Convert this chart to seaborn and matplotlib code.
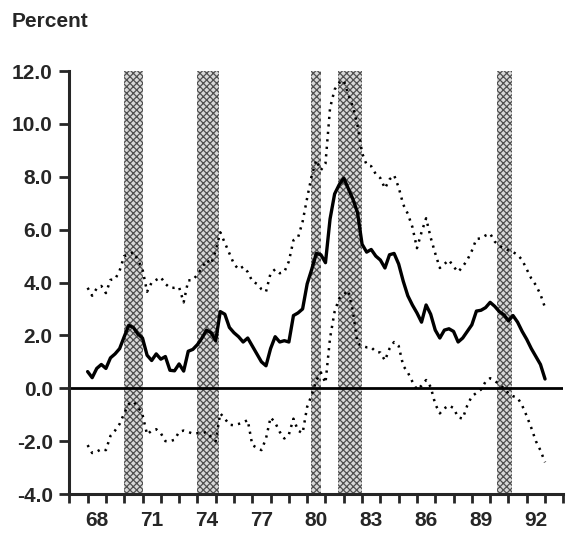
import numpy as np
import pandas as pd
import matplotlib
matplotlib.use("Agg")
import matplotlib.pyplot as plt
import seaborn as sns

# ---- data (quarterly, 1968Q1 .. 1993Q1) ----
quarters = pd.period_range("1968Q1", "1993Q1", freq="Q")

central = [
    0.63, 0.40, 0.75, 0.90,   # 1968
    0.75, 1.15, 1.30, 1.50,   # 1969
    1.95, 2.38, 2.30, 2.05,   # 1970
    1.90, 1.25, 1.05, 1.30,   # 1971
    1.10, 1.20, 0.68, 0.66,   # 1972
    0.92, 0.65, 1.40, 1.47,   # 1973
    1.65, 1.90, 2.20, 2.10,   # 1974
    1.80, 2.90, 2.80, 2.30,   # 1975
    2.10, 1.95, 1.75, 1.90,   # 1976
    1.60, 1.30, 1.00, 0.85,   # 1977
    1.50, 1.95, 1.75, 1.80,   # 1978
    1.75, 2.75, 2.85, 3.00,   # 1979
    3.95, 4.50, 5.10, 5.05,   # 1980
    4.75, 6.40, 7.35, 7.70,   # 1981
    7.95, 7.55, 7.15, 6.65,   # 1982
    5.45, 5.15, 5.25, 5.00,   # 1983
    4.85, 4.55, 5.05, 5.10,   # 1984
    4.70, 4.05, 3.50, 3.15,   # 1985
    2.85, 2.50, 3.15, 2.80,   # 1986
    2.20, 1.90, 2.20, 2.25,   # 1987
    2.15, 1.75, 1.90, 2.15,   # 1988
    2.40, 2.92, 2.95, 3.05,   # 1989
    3.25, 3.10, 2.90, 2.78,   # 1990
    2.55, 2.75, 2.50, 2.15,   # 1991
    1.85, 1.50, 1.20, 0.90,   # 1992
    0.35,                     # 1993
]

upper = [
    3.80, 3.50, 3.78, 3.87,
    3.60, 4.10, 4.12, 4.45,
    5.00, 5.05, 5.15, 4.85,
    4.50, 3.65, 4.00, 4.10,
    4.20, 3.95, 3.80, 3.80,
    3.82, 3.25, 4.08, 4.09,
    4.30, 4.55, 4.85, 4.70,
    5.20, 5.90, 5.50, 5.10,
    4.70, 4.50, 4.60, 4.40,
    4.05, 3.95, 3.75, 3.65,
    4.35, 4.50, 4.35, 4.40,
    4.80, 5.60, 5.70, 6.30,
    7.20, 8.05, 8.63, 8.25,
    8.50, 10.60, 11.30, 11.55,
    11.65, 11.10, 10.65, 9.95,
    8.90, 8.45, 8.40, 8.10,
    7.95, 7.56, 7.90, 8.06,
    7.60, 6.95, 6.60, 6.10,
    5.30, 5.90, 6.43, 5.70,
    5.10, 4.55, 4.70, 4.85,
    4.60, 4.40, 4.60, 4.85,
    5.20, 5.65, 5.67, 5.78,
    5.85, 5.55, 5.38, 5.30,
    5.22, 5.15, 5.05, 4.85,
    4.50, 4.15, 3.90, 3.55,
    3.05,
]

lower = [
    -2.15, -2.45, -2.40, -2.30,
    -2.34, -1.80, -1.60, -1.35,
    -0.95, -0.60, -0.50, -0.70,
    -1.00, -1.75, -1.60, -1.55,
    -1.70, -2.00, -2.00, -1.95,
    -1.65, -1.60, -1.65, -1.72,
    -1.70, -1.70, -1.65, -1.85,
    -2.00, -0.95, -1.15, -1.38,
    -1.40, -1.35, -1.30, -1.20,
    -2.15, -2.25, -2.34, -1.90,
    -1.10, -1.30, -1.65, -1.90,
    -1.75, -1.15, -1.60, -1.70,
    -0.70, -0.25, 0.30, 0.60,
    0.20, 1.90, 2.90, 3.40,
    3.55, 3.70, 2.90, 1.70,
    1.60, 1.55, 1.55, 1.38,
    1.35, 1.05, 1.50, 1.75,
    1.60, 0.85, 0.60, 0.25,
    -0.05, 0.10, 0.31, 0.05,
    -0.60, -0.95, -0.76, -0.65,
    -0.75, -1.10, -1.15, -0.65,
    -0.30, -0.18, -0.05, 0.25,
    0.38, 0.28, 0.15, 0.00,
    -0.20, -0.30, -0.36, -0.65,
    -1.05, -1.50, -2.00, -2.35,
    -2.80,
]

# recession periods (start, end) in decimal years
recession_start = [1970.0, 1974.0, 1980.2, 1981.7, 1990.4]
recession_end = [1971.0, 1975.2, 1980.73, 1983.0, 1991.2]

year_labels = ["68", "71", "74", "77", "80", "83", "86", "89", "92"]
label_years = [1968, 1971, 1974, 1977, 1980, 1983, 1986, 1989, 1992]
y_ticks = [-4.0, -2.0, 0.0, 2.0, 4.0, 6.0, 8.0, 10.0, 12.0]

# ---- frame ----
t = quarters.year + (quarters.quarter - 1) / 4.0
df = pd.DataFrame({"t": t, "central": central, "upper": upper, "lower": lower})

sns.set_style("ticks")
plt.rcParams["font.family"] = ["Liberation Sans Narrow", "Liberation Sans", "DejaVu Sans"]
plt.rcParams["font.weight"] = "bold"
plt.rcParams["hatch.linewidth"] = 0.9

fig = plt.figure(figsize=(5.7, 5.34), dpi=100)
ax = fig.add_axes([0.1216, 0.0749, 0.8667, 0.7921])

for s, e in zip(recession_start, recession_end):
    ax.axvspan(s, e, ymin=0, ymax=1, facecolor="#d8d8d8", edgecolor="#505050",
               hatch="xxxxx", linewidth=0, zorder=1)

ax.axhline(0, color="black", linewidth=2.0, zorder=2)

sns.lineplot(data=df, x="t", y="upper", ax=ax, color="black", linewidth=1.8,
             linestyle=(0, (0.9, 2.1)), zorder=3)
sns.lineplot(data=df, x="t", y="lower", ax=ax, color="black", linewidth=1.8,
             linestyle=(0, (0.9, 2.1)), zorder=3)
sns.lineplot(data=df, x="t", y="central", ax=ax, color="black", linewidth=2.4,
             zorder=4)

ax.set_xlim(1967, 1994)
ax.set_ylim(-4, 12)
ax.set_xlabel("")
ax.set_ylabel("")

ax.set_yticks(y_ticks)
ax.set_yticklabels([f"{v:.1f}" for v in y_ticks], fontsize=15, fontweight="bold")
ax.tick_params(axis="y", direction="out", length=7, width=2.0, pad=5)

ax.set_xticks(np.arange(1967, 1995))
ax.set_xticklabels([])
ax.tick_params(axis="x", which="major", direction="out", length=6.5, width=2.0)
ax.set_xticks([y + 0.5 for y in label_years], minor=True)
ax.set_xticklabels(year_labels, minor=True, fontsize=15, fontweight="bold")
ax.tick_params(axis="x", which="minor", length=0, pad=12)

for side in ["top", "right"]:
    ax.spines[side].set_visible(False)
for side in ["left", "bottom"]:
    ax.spines[side].set_linewidth(2.2)

fig.text(0.021, 0.960, "Percent", fontsize=15, fontweight="bold", ha="left", va="center")

fig.savefig("out.png", dpi=100)
